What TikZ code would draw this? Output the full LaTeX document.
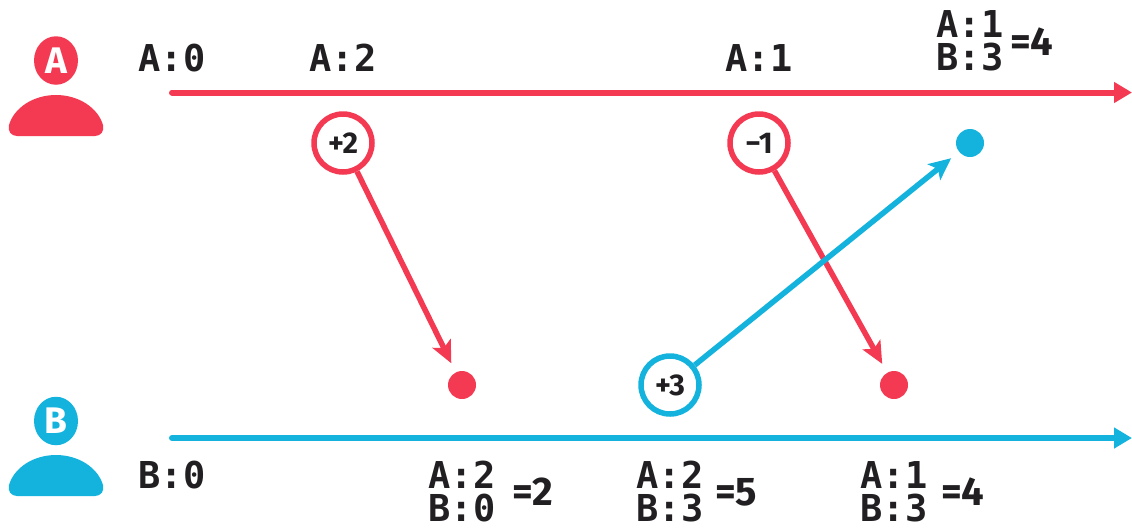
\documentclass[tikz,border=0pt]{standalone}
\usepackage{fontspec}
\setmainfont{Fira Sans}
\newfontfamily\tallyfont{DejaVu Sans Mono}
\usepackage{xcolor}
\usetikzlibrary{arrows.meta,shapes.geometric}
\definecolor{peerred}{RGB}{243,58,82}
\definecolor{peerblue}{RGB}{20,179,221}
\definecolor{inkdark}{RGB}{33,31,33}
\newcommand{\bodyshape}[2]{\fill[#1] (56,#2) .. controls (79,#2) and (98,#2+13) .. (103,#2+30) .. controls (104.5,#2+36) and (101,#2+41) .. (95,#2+41) -- (17,#2+41) .. controls (11,#2+41) and (7.5,#2+36) .. (9,#2+30) .. controls (14,#2+13) and (33,#2) .. (56,#2) -- cycle;}

\begin{document}
\begin{tikzpicture}[x=1pt, y=-1pt, every node/.style={text=inkdark}]
  \tikzstyle{head}=[ellipse, inner sep=0pt, minimum width=44pt, minimum height=48.5pt, font=\bfseries\fontsize{37}{37}\selectfont]
  \tikzstyle{opring}=[circle, draw, fill=white, line width=5.5pt, inner sep=0pt, minimum size=58pt, font=\fontsize{30}{30}\selectfont\bfseries]
  \tikzstyle{dot}=[circle, inner sep=0pt, minimum size=28pt]
  \tikzstyle{tally}=[font=\tallyfont\bfseries\fontsize{37}{33}\selectfont, align=left, inner sep=0pt]
  \tikzstyle{total}=[font=\bfseries\fontsize{40}{40}\selectfont, inner sep=0pt]
  \tikzstyle{timeline}=[line width=6pt, line cap=round, -{Stealth[length=18pt, width=20pt, inset=0pt]}]
  \tikzstyle{msg}=[line width=5.5pt, -{Stealth[length=22pt, width=20pt, inset=5pt]}, shorten >=10pt]
  \useasboundingbox (0,0) rectangle (1132,528);

  % peers
  \node[head, fill=peerred, text=white] (headA) at (56,60.5) {A};
  \node[head, fill=peerblue, text=white] (headB) at (56,421) {B};
  \bodyshape{peerred}{95}
  \bodyshape{peerblue}{455}

  % timelines
  \coordinate (startA) at (172,92.5);
  \coordinate (endA) at (1132,92.5);
  \coordinate (startB) at (172,438);
  \coordinate (endB) at (1132,438);
  \draw[timeline, peerred] (startA) -- (endA);
  \draw[timeline, peerblue] (startB) -- (endB);

  % operations
  \node[opring, draw=peerred] (plusTwo) at (343,143) {+2};
  \node[opring, draw=peerred] (minusOne) at (759,143) {−1};
  \node[opring, draw=peerblue] (plusThree) at (670,385) {+3};
  \node[dot, fill=peerred] (recvTwo) at (462,385) {};
  \node[dot, fill=peerred] (recvOne) at (894,385) {};
  \node[dot, fill=peerblue] (recvThree) at (970,143) {};
  \draw[msg, peerred] (plusTwo) -- (recvTwo);
  \draw[msg, peerred] (minusOne) -- (recvOne);
  \draw[msg, peerblue] (plusThree) -- (recvThree);

  % state on A
  \node[tally] (stateA0) at (172,58) {A:0};
  \node[tally] (stateA1) at (343,58) {A:2};
  \node[tally] (stateA2) at (759,58) {A:1};
  \node[tally] (stateA3) at (970,41) {A:1\\B:3};
  \node[total, anchor=west] (totalA3) at (1010,42) {=4};

  % state on B
  \node[tally] (stateB0) at (172,475) {B:0};
  \node[tally] (stateB1) at (462,492) {A:2\\B:0};
  \node[total, anchor=west] (totalB1) at (512,492) {=2};
  \node[tally] (stateB2) at (670,492) {A:2\\B:3};
  \node[total, anchor=west] (totalB2) at (715,492) {=5};
  \node[tally] (stateB3) at (894,492) {A:1\\B:3};
  \node[total, anchor=west] (totalB3) at (941,492) {=4};
\end{tikzpicture}
\end{document}
